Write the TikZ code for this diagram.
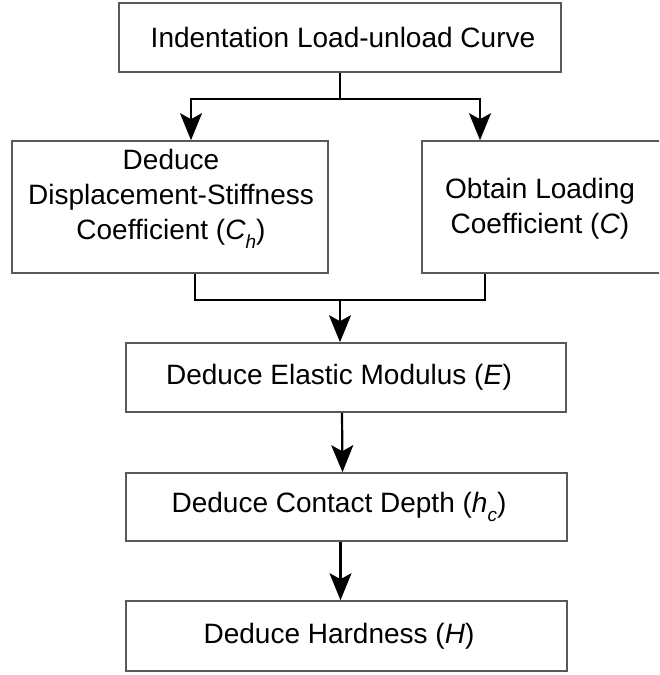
\documentclass[tikz,border=0pt]{standalone}
\usepackage{fontspec}
\setmainfont{Liberation Sans}
\usetikzlibrary{arrows.meta,calc}
\newcommand{\lowsub}[1]{\raisebox{-0.3em}{\fontsize{19}{19}\selectfont\textit{#1}}}
\tikzset{
  box/.style={draw=black!65, line width=1.6pt, rectangle, inner sep=0pt, fill=white},
  lbl/.style={inner sep=0pt, align=center, font=\fontsize{28}{35}\selectfont},
  conn/.style={draw=black, line width=2.2pt},
  arr/.style={conn, -{Stealth[length=27pt,width=22pt,inset=6pt]}},
}
\begin{document}
\begin{tikzpicture}[x=1pt,y=-1pt]
\useasboundingbox (0,0) rectangle (659,675);
\clip (0,0) rectangle (659,675);
% boxes
\node[box, minimum width=442pt, minimum height=69pt] (b1) at (340,37.5) {};
\node[box, minimum width=316pt, minimum height=132pt] (b2) at (170,207) {};
\node[box, minimum width=242pt, minimum height=132pt] (b3) at (543,207) {};
\node[box, minimum width=440pt, minimum height=69pt] (b4) at (346,377.5) {};
\node[box, minimum width=441pt, minimum height=68pt] (b5) at (346.5,507) {};
\node[box, minimum width=441pt, minimum height=70pt] (b6) at (346.5,636) {};
% labels
\node[lbl] (t1) at (343,37.5) {Indentation Load-unload Curve};
\node[lbl] (t2) at (171,199) {Deduce\\Displacement-Stiffness\\Coefficient (\textit{C}\lowsub{h})};
\node[lbl] (t3) at (540,209) {Obtain Loading\\Coefficient (\textit{C})};
\node[lbl] (t4) at (339,377.5) {Deduce Elastic Modulus (\textit{E})};
\node[lbl] (t5) at (339,507) {Deduce Contact Depth (\textit{h}\lowsub{c})};
\node[lbl] (t6) at (339,636) {Deduce Hardness (\textit{H})};
% junctions
\coordinate (j1) at (340,99);
\coordinate (j2) at (340,300);
% connectors
\draw[conn] (b1.south -| j1) -- (j1);
\draw[arr] (j1) -| ([xshift=21pt]b2.north);
\draw[arr] (j1) -| ([xshift=-63pt]b3.north);
\draw[conn] ([xshift=25pt]b2.south) |- (j2);
\draw[conn] ([xshift=-58pt]b3.south) |- (j2);
\draw[arr] (j2) -- (j2 |- b4.north);
\draw[arr] ([xshift=-4pt]b4.south) -- ([xshift=-4pt]b5.north);
\draw[arr] ([xshift=-6pt]b5.south) -- ([xshift=-6pt]b6.north);
\end{tikzpicture}
\end{document}
